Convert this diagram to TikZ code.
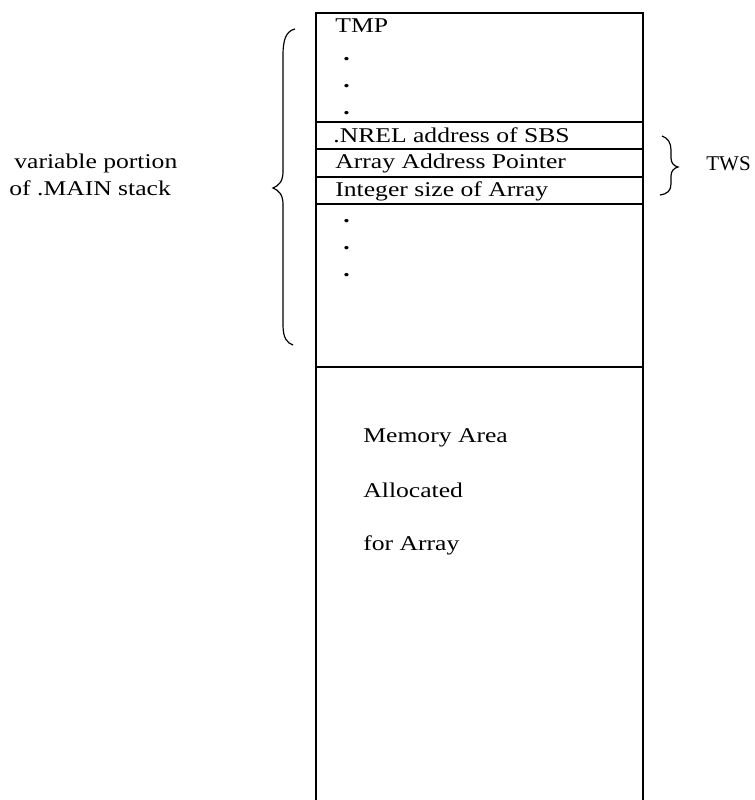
\documentclass[tikz,border=0pt]{standalone}
\usepackage{fontspec}
\setmainfont[FakeStretch=1.22]{Liberation Serif}
\newfontfamily\plainserif{Liberation Serif}
\begin{document}
\begin{tikzpicture}[x=0.5pt,y=-0.5pt,
  frame/.style={line width=1pt,black},
  brace/.style={line width=0.6pt,black},
  lbl/.style={anchor=base west,inner sep=0pt,font=\fontsize{10.5pt}{12pt}\selectfont},
  dotlbl/.style={anchor=base west,inner sep=0pt,font=\fontsize{10.5pt}{12pt}\selectfont\bfseries}]
\useasboundingbox (0,0) rectangle (755,800);
% stack frame
\draw[frame] (316,800) -- (316,13) -- (643,13) -- (643,800);
\foreach \yy in {122,149,177,204,367} \draw[frame] (316,\yy) -- (643,\yy);
% texts in the stack
\node[lbl] (tmp) at (335,32) {TMP};
\node[dotlbl] (d1) at (343,60) {.};
\node[dotlbl] (d2) at (343,87) {.};
\node[dotlbl] (d3) at (343,114) {.};
\node[lbl] (nrel) at (333,142) {.NREL address of SBS};
\node[lbl] (aap) at (335,168) {Array Address Pointer};
\node[lbl] (isa) at (335,196) {Integer size of Array};
\node[dotlbl] (d4) at (343,222) {.};
\node[dotlbl] (d5) at (343,249) {.};
\node[dotlbl] (d6) at (343,276) {.};
\node[lbl] (mem1) at (363,442) {Memory Area};
\node[lbl] (mem2) at (363,497) {Allocated};
\node[lbl] (mem3) at (363,550) {for Array};
% left label and brace
\node[lbl] (var1) at (14,168) {variable portion};
\node[lbl] (var2) at (9,195) {of .MAIN stack};
\draw[brace] (295,29) .. controls (286,31) and (283,40) .. (283,55) -- (283,172)
  .. controls (283,182) and (278,186) .. (273,188)
  .. controls (278,190) and (283,194) .. (283,204) -- (283,325)
  .. controls (283,338) and (287,343) .. (293,345);
% TWS brace and label
\draw[brace] (662,136) .. controls (668,138) and (671,143) .. (671,150) -- (671,158)
  .. controls (671,163) and (674,166) .. (678,167)
  .. controls (674,168) and (671,171) .. (671,176) -- (671,184)
  .. controls (671,191) and (667,194) .. (660,195);
\node[lbl,font=\fontsize{10.5pt}{12pt}\selectfont\plainserif] (tws) at (706,170) {TWS};
\end{tikzpicture}
\end{document}
